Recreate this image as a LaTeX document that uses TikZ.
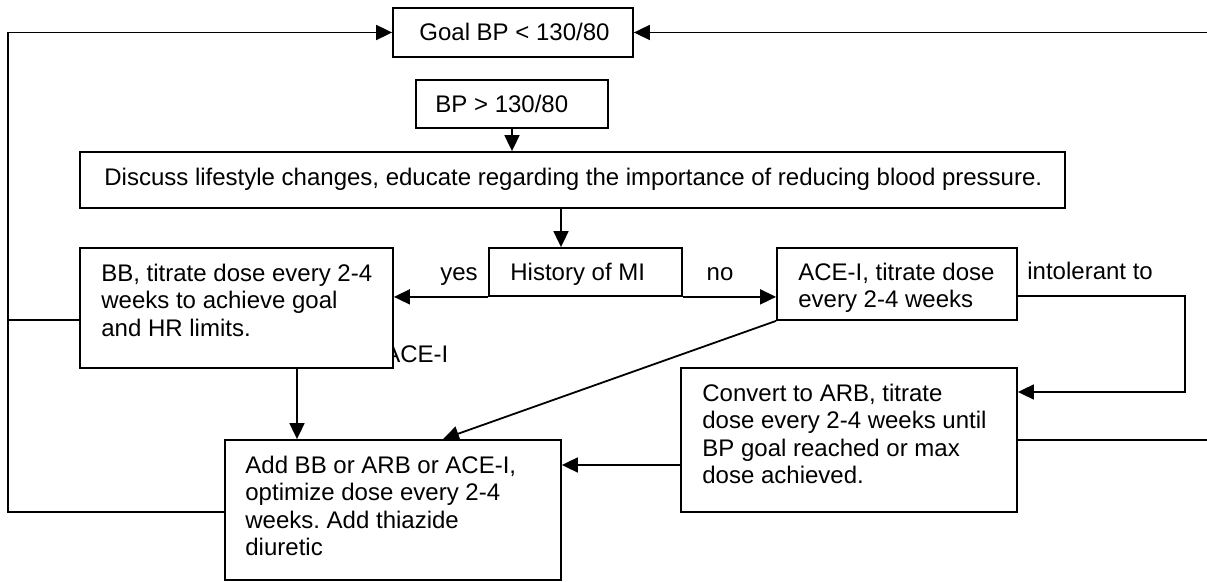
\documentclass[tikz,border=0pt]{standalone}
\usepackage{fontspec}
\setmainfont{Liberation Sans}
\usetikzlibrary{arrows.meta,fit}
\frenchspacing
\begin{document}
\begin{tikzpicture}[x=0.5pt,y=-0.5pt,
  box/.style={draw, line width=0.9pt, fill=white, inner sep=0pt},
  txt/.style={inner sep=0pt, anchor=north west, align=left, font=\fontsize{12pt}{13.75pt}\selectfont},
  lbl/.style={inner sep=0pt, font=\fontsize{12pt}{13.75pt}\selectfont},
  conn/.style={line width=0.9pt},
  arr/.style={conn, -{Triangle[length=8pt,width=7.5pt]}}]
\useasboundingbox (0,0) rectangle (1207,582);

% label partly hidden behind the BB box
\node[lbl, anchor=base west] (acelbl) at (384,363) {ACE-I};

% boxes
\node[box, fit={(393,8) (633,57)}] (goal) {};
\node[box, fit={(416,80) (608,128)}] (bp) {};
\node[box, fit={(80,152) (1065,208)}] (disc) {};
\node[box, fit={(80,248) (393,368)}] (bb) {};
\node[box, fit={(489,248) (682,296)}] (hist) {};
\node[box, fit={(777,248) (1017,320)}] (ace) {};
\node[box, fit={(681,368) (1017,512)}] (arb) {};
\node[box, fit={(225,440) (561,580)}] (add) {};

% texts
\node[txt] (goalt) at (419,20.75) {\strut Goal BP < 130/80};
\node[txt] (bpt) at (435,92.75) {\strut BP > 130/80};
\node[txt] (disct) at (104,165.75) {\strut Discuss lifestyle changes, educate regarding the importance of reducing blood pressure.};
\node[txt] (bbt) at (101,261.5) {\strut BB, titrate dose every 2-4\\weeks to achieve goal\\and HR limits.};
\node[txt] (histt) at (510,260.75) {\strut History of MI};
\node[txt] (acet) at (798,260.75) {\strut ACE-I, titrate dose\\every 2-4 weeks};
\node[txt] (arbt) at (702,381.75) {\strut Convert to ARB, titrate\\dose every 2-4 weeks until\\BP goal reached or max\\dose achieved.};
\node[txt] (addt) at (245,453.5) {\strut Add BB or ARB or ACE-I,\\optimize dose every 2-4\\weeks. Add thiazide\\diuretic};

% branch labels
\node[lbl, anchor=base] (yes) at (459,281) {yes};
\node[lbl, anchor=base] (no) at (720,281) {no};
\node[lbl, anchor=base west] (intol) at (1027,280) {intolerant to};

% helper coordinates
\coordinate (lb) at (8,512);
\coordinate (lm) at (8,320);
\coordinate (lt) at (8,32.5);
\coordinate (rt) at (1207,32.5);
\coordinate (rr) at (1207,440);
\coordinate (ic1) at (1185,296);
\coordinate (ic2) at (1185,392);
\coordinate (xdh) at (561,0);
\coordinate (xbb) at (297,0);
\coordinate (xad) at (443,0);
\coordinate (yca) at (0,465);

% connectors
\draw[arr] (add.west |- lb) -- (lb) -- (lt) -- (goal.west);
\draw[conn] (bb.west |- lm) -- (lm);
\draw[arr] (rt) -- (goal.east);
\draw[arr] (bp.south) -- (disc.north -| bp.south);
\draw[arr] (disc.south -| xdh) -- (hist.north -| xdh);
\draw[arr] (hist.south west) -- (bb.east |- hist.south west);
\draw[arr] (hist.south east) -- (ace.west |- hist.south east);
\draw[arr] (ace.east |- ic1) -- (ic1) -- (ic2) -- (arb.east |- ic2);
\draw[arr] (ace.south west) -- (add.north -| xad);
\draw[arr] (bb.south -| xbb) -- (add.north -| xbb);
\draw[arr] (arb.west |- yca) -- (add.east |- yca);
\draw[conn] (arb.east) -- (rr);
\end{tikzpicture}
\end{document}
